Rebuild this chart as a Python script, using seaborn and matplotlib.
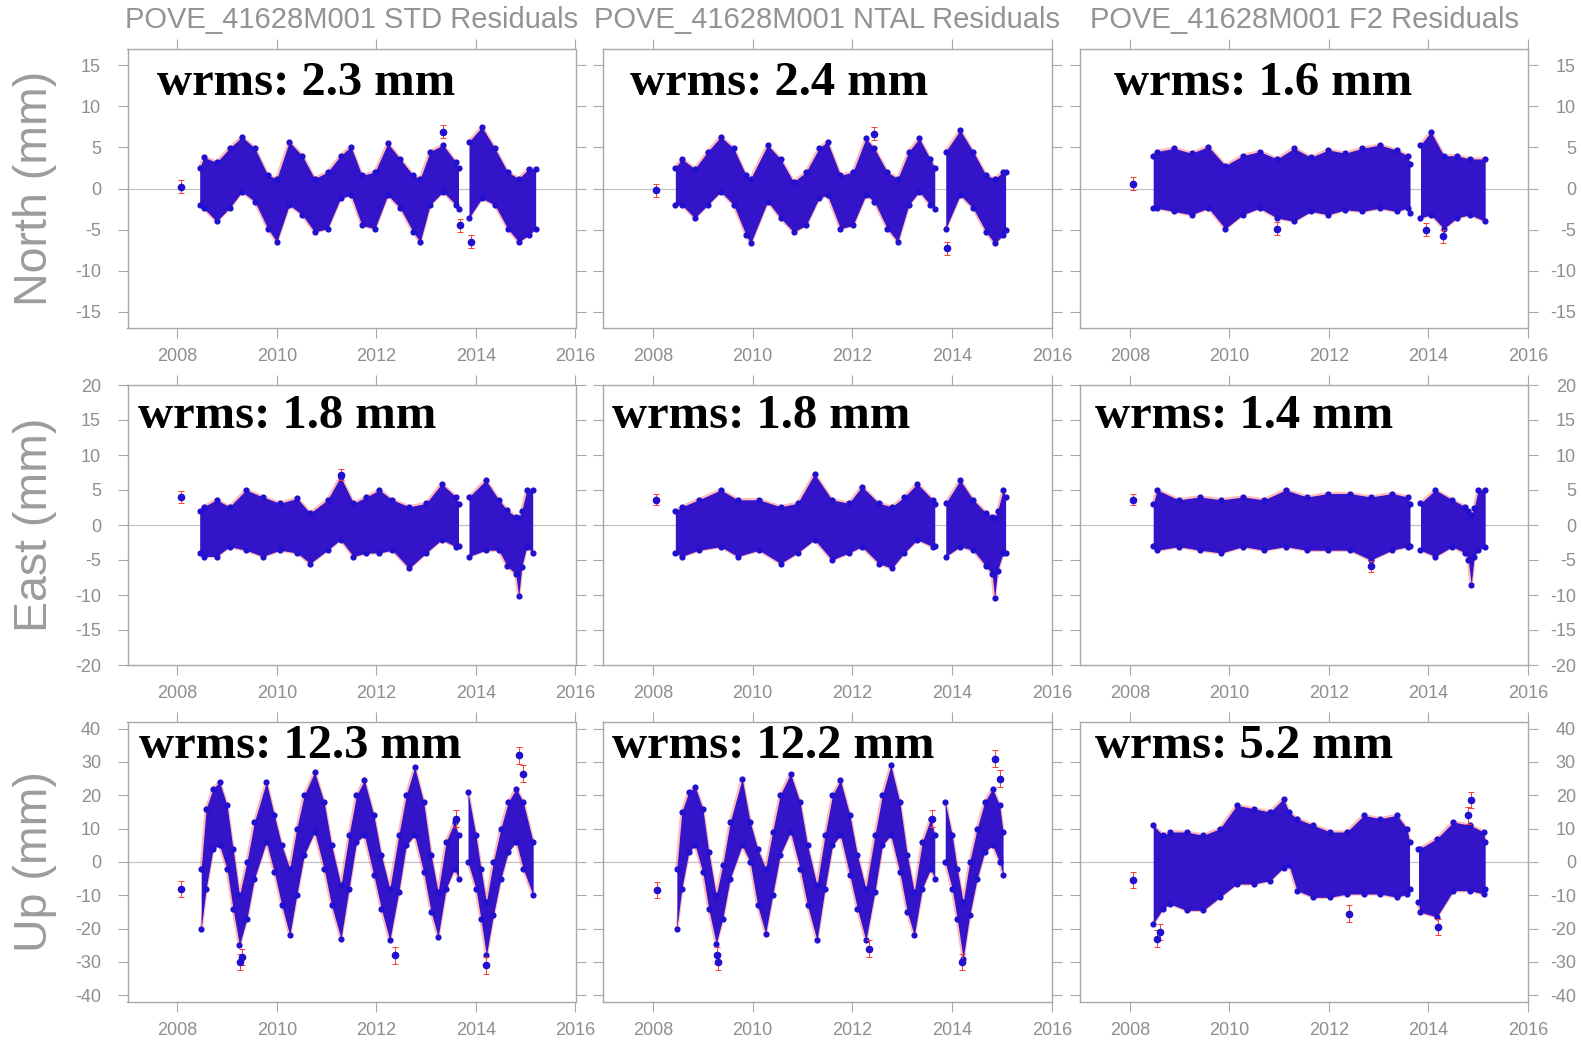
import numpy as np
import matplotlib
matplotlib.use("Agg")
import matplotlib.pyplot as plt
import seaborn as sns

# ---------------- data ----------------
TITLES = ["POVE_41628M001 STD Residuals", "POVE_41628M001 NTAL Residuals", "POVE_41628M001 F2 Residuals"]
ROW_LABELS = ["North (mm)", "East (mm)", "Up (mm)"]
WRMS = [["wrms: 2.3 mm", "wrms: 2.4 mm", "wrms: 1.6 mm"],
        ["wrms: 1.8 mm", "wrms: 1.8 mm", "wrms: 1.4 mm"],
        ["wrms: 12.3 mm", "wrms: 12.2 mm", "wrms: 5.2 mm"]]
X_TICKS = [2008, 2010, 2012, 2014, 2016]
Y_TICKS = [[-15, -10, -5, 0, 5, 10, 15],
           [-20, -15, -10, -5, 0, 5, 10, 15, 20],
           [-40, -30, -20, -10, 0, 10, 20, 30, 40]]
DATA_GAP = (2013.66, 2013.78)  # no observations between these epochs

# North, STD
N_STD_T = [2008.45, 2008.53, 2008.79, 2009.05, 2009.30, 2009.56, 2009.82, 2010.00, 2010.25, 2010.51, 2010.76,
           2011.02, 2011.28, 2011.49, 2011.71, 2011.97, 2012.23, 2012.48, 2012.74, 2012.88, 2013.08, 2013.34,
           2013.60, 2013.65,
           2013.86, 2014.12, 2014.38, 2014.64, 2014.86, 2015.06, 2015.20]
N_STD_LO = [-2.0, -2.4, -4.0, -2.4, -0.4, -1.6, -4.9, -6.5, -2.0, -3.2, -5.3, -4.9, -1.2, -0.8, -4.5, -4.9, -0.8,
            -2.4, -5.3, -6.5, -2.0, -0.4, -2.0, -2.5,
            -3.6, -1.2, -2.0, -4.9, -6.5, -5.7, -4.9]
N_STD_HI = [2.5, 3.8, 3.2, 4.9, 6.3, 4.9, 1.6, 1.2, 5.7, 4.0, 1.2, 2.0, 4.0, 5.1, 1.6, 2.0, 5.5, 3.6, 1.6, 1.2,
            4.5, 5.3, 3.2, 2.5,
            5.7, 7.5, 4.9, 2.0, 1.2, 2.4, 2.4]
N_STD_OUT_T = [2008.07, 2013.68, 2013.90, 2013.34]
N_STD_OUT_Y = [0.2, -4.5, -6.5, 6.9]

# North, NTAL
N_NTAL_T = [2008.45, 2008.58, 2008.84, 2009.10, 2009.36, 2009.62, 2009.87, 2009.96, 2010.30, 2010.56, 2010.82,
            2011.07, 2011.33, 2011.50, 2011.76, 2012.01, 2012.27, 2012.44, 2012.70, 2012.91, 2013.13, 2013.34,
            2013.56, 2013.65,
            2013.87, 2014.16, 2014.42, 2014.68, 2014.85, 2015.02, 2015.07]
N_NTAL_LO = [-2.0, -2.0, -3.6, -2.0, -0.4, -2.0, -5.7, -6.7, -1.6, -3.6, -5.3, -4.5, -1.2, -0.8, -4.9, -4.5,
             -0.8, -1.6, -4.9, -6.5, -2.0, -0.4, -2.0, -2.5,
             -4.9, -0.8, -2.4, -5.3, -6.7, -5.7, -5.0]
N_NTAL_HI = [2.5, 3.6, 2.4, 4.5, 6.3, 4.9, 1.6, 1.2, 5.3, 3.6, 0.8, 2.0, 4.9, 5.7, 1.6, 2.0, 6.1, 4.9, 2.0, 1.2,
             4.5, 6.1, 3.6, 2.5,
             4.5, 7.1, 4.5, 1.6, 1.2, 2.0, 2.0]
N_NTAL_OUT_T = [2008.07, 2013.90, 2012.44]
N_NTAL_OUT_Y = [-0.2, -7.3, 6.7]

# North, F2
N_F2_T = [2008.47, 2008.55, 2008.89, 2009.24, 2009.58, 2009.92, 2010.27, 2010.61, 2010.96, 2011.30, 2011.64,
          2011.99, 2012.33, 2012.67, 2013.02, 2013.36, 2013.58, 2013.63,
          2013.84, 2014.05, 2014.31, 2014.57, 2014.83, 2015.14]
N_F2_LO = [-2.4, -2.4, -2.8, -3.2, -2.4, -4.9, -3.2, -2.4, -3.6, -4.0, -2.8, -3.2, -2.6, -2.8, -2.4, -2.8, -2.4,
           -3.0,
           -3.6, -3.2, -4.9, -3.6, -3.2, -4.0]
N_F2_HI = [4.0, 4.5, 4.9, 4.3, 5.1, 2.8, 4.0, 4.5, 3.6, 4.9, 3.8, 4.7, 4.3, 4.9, 5.3, 4.7, 4.0, 3.0,
           5.3, 6.9, 4.0, 4.0, 3.6, 3.6]
N_F2_OUT_T = [2008.06, 2014.30, 2013.95, 2010.96]
N_F2_OUT_Y = [0.6, -5.8, -5.0, -4.9]

# East, STD
E_STD_T = [2008.45, 2008.53, 2008.79, 2009.05, 2009.38, 2009.72, 2010.06, 2010.41, 2010.67, 2011.02, 2011.28,
           2011.54, 2011.80, 2012.06, 2012.32, 2012.66, 2013.00, 2013.31, 2013.60, 2013.65,
           2013.86, 2014.20, 2014.46, 2014.63, 2014.80, 2014.86, 2014.92, 2015.02, 2015.14]
E_STD_LO = [-4.0, -4.5, -4.5, -3.1, -3.6, -4.5, -3.6, -4.0, -5.5, -3.6, -2.1, -4.5, -4.0, -4.0, -3.6, -6.2,
            -4.0, -2.1, -3.1, -3.0,
            -4.5, -3.6, -3.6, -5.9, -7.0, -10.2, -6.0, -3.1, -4.0]
E_STD_HI = [2.0, 2.6, 3.6, 2.6, 5.0, 4.0, 3.1, 3.8, 1.7, 3.6, 6.9, 3.1, 4.0, 5.0, 3.6, 2.6, 3.1, 5.9, 4.0, 3.0,
            4.0, 6.4, 3.6, 2.1, 1.2, 1.0, 2.0, 5.0, 5.0]
E_STD_OUT_T = [2008.07, 2011.28]
E_STD_OUT_Y = [4.0, 7.2]

# East, NTAL
E_NTAL_T = [2008.45, 2008.58, 2008.92, 2009.36, 2009.70, 2010.13, 2010.56, 2010.90, 2011.24, 2011.59, 2011.93,
            2012.19, 2012.53, 2012.79, 2013.04, 2013.30, 2013.61, 2013.65,
            2013.87, 2014.16, 2014.42, 2014.68, 2014.80, 2014.85, 2014.91, 2015.02, 2015.07]
E_NTAL_LO = [-4.0, -4.5, -3.6, -3.1, -4.5, -3.6, -5.5, -4.0, -2.1, -5.0, -4.0, -3.1, -5.5, -6.2, -4.0, -2.1,
             -3.1, -3.0,
             -4.5, -3.1, -3.6, -5.9, -7.0, -10.4, -6.5, -4.0, -4.0]
E_NTAL_HI = [2.0, 2.6, 3.6, 5.0, 3.6, 3.6, 2.6, 3.1, 7.3, 3.6, 3.1, 5.5, 3.1, 2.6, 4.0, 5.9, 3.6, 3.0,
             3.1, 6.4, 3.6, 1.7, 1.2, 1.0, 2.0, 5.0, 4.0]
E_NTAL_OUT_T = [2008.07]
E_NTAL_OUT_Y = [3.6]

# East, F2
E_F2_T = [2008.47, 2008.55, 2008.98, 2009.41, 2009.84, 2010.27, 2010.70, 2011.13, 2011.56, 2011.99, 2012.42,
          2012.84, 2013.27, 2013.58, 2013.63,
          2013.84, 2014.14, 2014.48, 2014.74, 2014.80, 2014.86, 2014.92, 2015.00, 2015.14]
E_F2_LO = [-3.0, -3.6, -3.1, -3.6, -4.0, -3.1, -3.6, -3.1, -3.6, -3.6, -3.6, -5.0, -3.6, -3.1, -3.0,
           -3.6, -4.5, -3.1, -4.0, -5.0, -8.5, -4.5, -3.6, -3.1]
E_F2_HI = [3.0, 5.0, 3.6, 4.0, 3.6, 4.0, 3.6, 5.0, 4.0, 4.5, 4.5, 4.0, 4.5, 4.0, 3.0,
           3.1, 5.0, 3.6, 2.6, 2.0, 1.5, 2.5, 5.0, 5.0]
E_F2_OUT_T = [2008.06, 2012.84]
E_F2_OUT_Y = [3.6, -5.9]

# Up, STD
U_STD_T = [2008.48, 2008.58, 2008.72, 2008.85, 2009.00, 2009.12, 2009.25, 2009.40, 2009.55, 2009.79, 2009.95,
           2010.10, 2010.26, 2010.40, 2010.55, 2010.76, 2010.95, 2011.10, 2011.29, 2011.45, 2011.60, 2011.76,
           2011.95, 2012.10, 2012.27, 2012.45, 2012.60, 2012.77, 2012.95, 2013.10, 2013.24, 2013.40, 2013.57,
           2013.65,
           2013.84, 2014.00, 2014.10, 2014.21, 2014.35, 2014.50, 2014.65, 2014.81, 2014.95, 2015.15]
U_STD_LO = [-20, -8, 4, 5, -2, -14, -25, -17, -5, 6, -3, -13, -22, -10, 2, 9, -2, -13, -23, -8, 6, 8, -4, -14,
            -23.5, -9, 5, 8, -3, -15, -22.5, -8, -2, -5,
            0, -8, -17, -28, -16, -5, 3, 6, -2, -10]
U_STD_HI = [-2, 16, 22, 24, 17, 4, -10, 0, 12, 24, 14, 5, -2, 10, 20, 27, 18, 5, -7, 8, 20, 24.5, 14, 2,
            -8, 8, 20, 28.5, 18, 2, -9, 6, 12, 8,
            21, 8, -2, -12, 0, 10, 18, 22, 18, 6]
U_STD_OUT_T = [2008.07, 2009.27, 2009.30, 2012.37, 2014.20, 2014.87, 2014.95, 2013.60]
U_STD_OUT_Y = [-8.1, -30, -28.5, -28, -31, 32, 26.5, 13]

# Up, NTAL
U_NTAL_T = [2008.48, 2008.58, 2008.72, 2008.85, 2009.00, 2009.12, 2009.27, 2009.40, 2009.55, 2009.79, 2009.95,
            2010.10, 2010.26, 2010.40, 2010.55, 2010.76, 2010.95, 2011.10, 2011.29, 2011.45, 2011.60, 2011.76,
            2011.95, 2012.10, 2012.27, 2012.45, 2012.60, 2012.77, 2012.95, 2013.10, 2013.24, 2013.40, 2013.57,
            2013.65,
            2013.86, 2014.00, 2014.10, 2014.22, 2014.35, 2014.50, 2014.65, 2014.81, 2014.95, 2015.02]
U_NTAL_LO = [-20, -8, 3, 5, -3, -14, -24.5, -17, -5, 5, 0, -13, -21.5, -10, 2, 9, -2, -13, -23.5, -8, 5, 8, -4,
             -14, -23.5, -9, 5, 8, -3, -15, -22, -8, -2, -5,
             0, -8, -17, -29, -16, -5, 3, 5, 0, -4]
U_NTAL_HI = [-2, 15, 21, 22.5, 16, 3, -10, -1, 12, 25, 12, 4, -2, 9, 20, 26.5, 18, 5, -7, 8, 20, 24.5, 14, 2,
             -8, 8, 20, 29, 18, 2, -9, 6, 13, 8,
             18, 8, -2, -12, 0, 10, 18, 22, 17, 9]
U_NTAL_OUT_T = [2008.08, 2009.30, 2009.28, 2012.33, 2014.20, 2014.85, 2014.95, 2013.60]
U_NTAL_OUT_Y = [-8.4, -30, -28, -26, -30, 31, 25, 13]

# Up, F2
U_F2_T = [2008.47, 2008.67, 2008.81, 2009.14, 2009.48, 2009.81, 2010.15, 2010.49, 2010.82, 2011.09, 2011.20,
          2011.36, 2011.69, 2012.03, 2012.36, 2012.70, 2013.03, 2013.37, 2013.57, 2013.62,
          2013.80, 2013.83, 2014.17, 2014.50, 2014.84, 2015.11, 2015.14]
U_F2_LO = [-18.5, -14, -12.6, -14.5, -14.5, -10.6, -6.6, -6.6, -5.6, -1.7, -1.0, -8.6, -10.6, -10.6, -9.6, -9.6,
           -9.6, -10.6, -9.6, -8,
           -12, -15, -16.5, -8.6, -8.6, -9.6, -8]
U_F2_HI = [11, 8, 9, 9, 8, 10, 17, 16, 15, 19, 15, 13, 11, 9, 9, 14, 13, 14, 10, 6,
           4, 4, 7, 12, 11, 9, 6]
U_F2_OUT_T = [2008.06, 2008.55, 2014.20, 2014.85, 2014.80, 2012.40, 2008.60]
U_F2_OUT_Y = [-5.4, -23, -19.5, 18.6, 14, -15.5, -21]

PANELS = [
    [(N_STD_T, N_STD_LO, N_STD_HI, N_STD_OUT_T, N_STD_OUT_Y),
     (N_NTAL_T, N_NTAL_LO, N_NTAL_HI, N_NTAL_OUT_T, N_NTAL_OUT_Y),
     (N_F2_T, N_F2_LO, N_F2_HI, N_F2_OUT_T, N_F2_OUT_Y)],
    [(E_STD_T, E_STD_LO, E_STD_HI, E_STD_OUT_T, E_STD_OUT_Y),
     (E_NTAL_T, E_NTAL_LO, E_NTAL_HI, E_NTAL_OUT_T, E_NTAL_OUT_Y),
     (E_F2_T, E_F2_LO, E_F2_HI, E_F2_OUT_T, E_F2_OUT_Y)],
    [(U_STD_T, U_STD_LO, U_STD_HI, U_STD_OUT_T, U_STD_OUT_Y),
     (U_NTAL_T, U_NTAL_LO, U_NTAL_HI, U_NTAL_OUT_T, U_NTAL_OUT_Y),
     (U_F2_T, U_F2_LO, U_F2_HI, U_F2_OUT_T, U_F2_OUT_Y)],
]

# ---------------- style / layout ----------------
sns.set_theme(style="white")
plt.rcParams["font.family"] = ["Liberation Sans", "DejaVu Sans"]
plt.rcParams["axes.unicode_minus"] = False

W, H = 1581, 1043
BLUE = "#3414c8"
DOT = "#2010d0"
RED = "#ff3838"
GRAY_TXT = "#8e8e8e"
GRAY_LINE = "#a8a8a8"

COLS = [(127.5, 575.5), (603, 1052), (1080, 1528)]
ROWS = [(49, 328), (385, 665), (722, 1002)]
YLIMS = [(-17, 17), (-20, 20), (-42, 42)]
ERR = [0.8, 0.8, 2.5]
WRMS_POS = [[(0.066, 0.835), (0.060, 0.835), (0.076, 0.835)],
            [(0.024, 0.846), (0.020, 0.846), (0.034, 0.846)],
            [(0.026, 0.871), (0.020, 0.871), (0.034, 0.871)]]

fig = plt.figure(figsize=(W / 100, H / 100), dpi=100)

for r in range(3):
    y0, y1 = ROWS[r]
    for c in range(3):
        x0, x1 = COLS[c]
        ax = fig.add_axes([x0 / W, 1 - y1 / H, (x1 - x0) / W, (y1 - y0) / H])
        t, lo, hi, ot, oy = PANELS[r][c]
        t = np.asarray(t, float)
        lo = np.asarray(lo, float)
        hi = np.asarray(hi, float)
        # split into the two continuous segments on each side of the data gap
        before = t <= DATA_GAP[0]
        for m in (before, ~before):
            ts, ls, hs = t[m], lo[m], hi[m]
            ax.plot(ts, hs, color=RED, lw=2.4, alpha=0.35, zorder=2)
            ax.plot(ts, ls, color=RED, lw=2.4, alpha=0.35, zorder=2)
            ax.fill_between(ts, ls, hs, color=BLUE, lw=0, zorder=3)
        sns.scatterplot(x=t, y=hi, color=DOT, s=20, linewidth=0, ax=ax, zorder=4)
        sns.scatterplot(x=t, y=lo, color=DOT, s=20, linewidth=0, ax=ax, zorder=4)
        ax.errorbar(ot, oy, yerr=ERR[r], fmt="o", color=DOT, ecolor=RED, ms=4.5,
                    elinewidth=0.7, capsize=2, capthick=0.7, zorder=5)
        ax.axhline(0, color="#c4c4c4", lw=0.9, zorder=1)

        ax.set_xlim(2007, 2016)
        ax.set_ylim(*YLIMS[r])
        ax.set_xticks(X_TICKS)
        ax.set_xticklabels([str(v) for v in X_TICKS])
        ax.set_yticks(Y_TICKS[r])
        ax.set_yticklabels([str(v) for v in Y_TICKS[r]])
        ax.set_xlabel("")
        ax.set_ylabel("")
        for s in ax.spines.values():
            s.set_color(GRAY_LINE)
            s.set_linewidth(1.0)
        ax.tick_params(axis="both", which="both", direction="out", length=7, width=0.8,
                       color=GRAY_LINE, labelcolor=GRAY_TXT, labelsize=13,
                       top=True, right=True, left=True, bottom=True)
        ax.tick_params(axis="x", pad=7.5, labeltop=False, labelbottom=True)
        if c == 0:
            ax.tick_params(axis="y", labelleft=True, labelright=False, pad=12)
        elif c == 2:
            ax.tick_params(axis="y", labelleft=False, labelright=True, pad=27.5)
            for lab in ax.get_yticklabels():
                lab.set_horizontalalignment("right")
        else:
            ax.tick_params(axis="y", labelleft=False, labelright=False)

        wx, wy = WRMS_POS[r][c]
        ax.text(wx, wy, WRMS[r][c], transform=ax.transAxes, ha="left", va="baseline",
                fontsize=35, fontweight="bold", family=["Liberation Serif", "DejaVu Serif"],
                color="black", zorder=10)

    # row label
    fig.text(35.3 / W, 1 - (y0 + y1) / 2 / H, ROW_LABELS[r], rotation=90, ha="center", va="center",
             fontsize=33.5, color="#9c9c9c")

for c in range(3):
    x0, x1 = COLS[c]
    fig.text((x0 + x1) / 2 / W, 1 - 20 / H, TITLES[c], ha="center", va="center",
             fontsize=21, color="#939393")

fig.savefig("out.png", dpi=100, facecolor="white")
